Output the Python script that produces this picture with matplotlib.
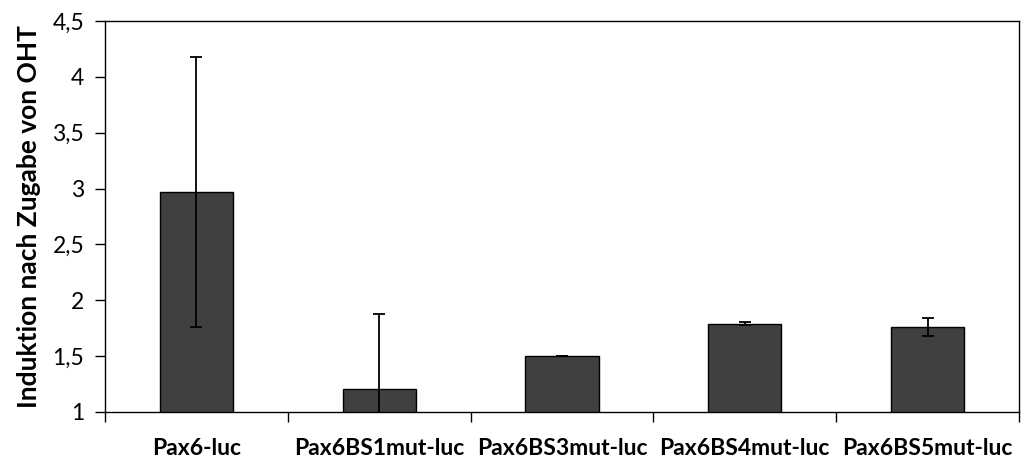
import matplotlib
matplotlib.use("Agg")
import matplotlib.pyplot as plt
import numpy as np
from matplotlib.ticker import FixedLocator, FuncFormatter

categories = ["Pax6-luc", "Pax6BS1mut-luc", "Pax6BS3mut-luc", "Pax6BS4mut-luc", "Pax6BS5mut-luc"]
values = [2.97, 1.21, 1.505, 1.79, 1.762]
errors = [1.21, 0.667, 0.0, 0.015, 0.083]
yticks = [1, 1.5, 2, 2.5, 3, 3.5, 4, 4.5]

plt.rcParams['font.family'] = ['Lato', 'DejaVu Sans']

fig = plt.figure(figsize=(10.21, 4.59), dpi=100)
ax = fig.add_axes([105/1021, 47/459, 914/1021, 391/459])

x = np.arange(len(categories))
ax.bar(x, values, width=0.4, color="#404040", edgecolor="black", linewidth=1.0, zorder=2)
ax.errorbar(x, values, yerr=errors, fmt="none", ecolor="black", elinewidth=1.3,
            capsize=4, capthick=1.3, zorder=3)

ax.set_xlim(-0.5, len(categories) - 0.5)
ax.set_ylim(1, 4.5)
ax.set_yticks(yticks)
ax.yaxis.set_major_formatter(FuncFormatter(lambda v, p: ("%g" % v).replace(".", ",")))
ax.tick_params(axis="y", direction="out", length=7, width=1, labelsize=16.5, pad=8)

ax.set_xticks(x)
ax.set_xticklabels(categories, fontsize=16.5, fontweight="bold")
ax.tick_params(axis="x", which="major", length=0, pad=19)
ax.xaxis.set_minor_locator(FixedLocator(np.arange(-0.5, len(categories), 1.0)))
ax.tick_params(axis="x", which="minor", direction="out", length=7, width=1)

for s in ax.spines.values():
    s.set_linewidth(1.0)
    s.set_color("black")

ax.set_ylabel("Induktion nach Zugabe von OHT", fontsize=19, fontweight="bold", labelpad=8)

fig.savefig("out.png", dpi=100)
